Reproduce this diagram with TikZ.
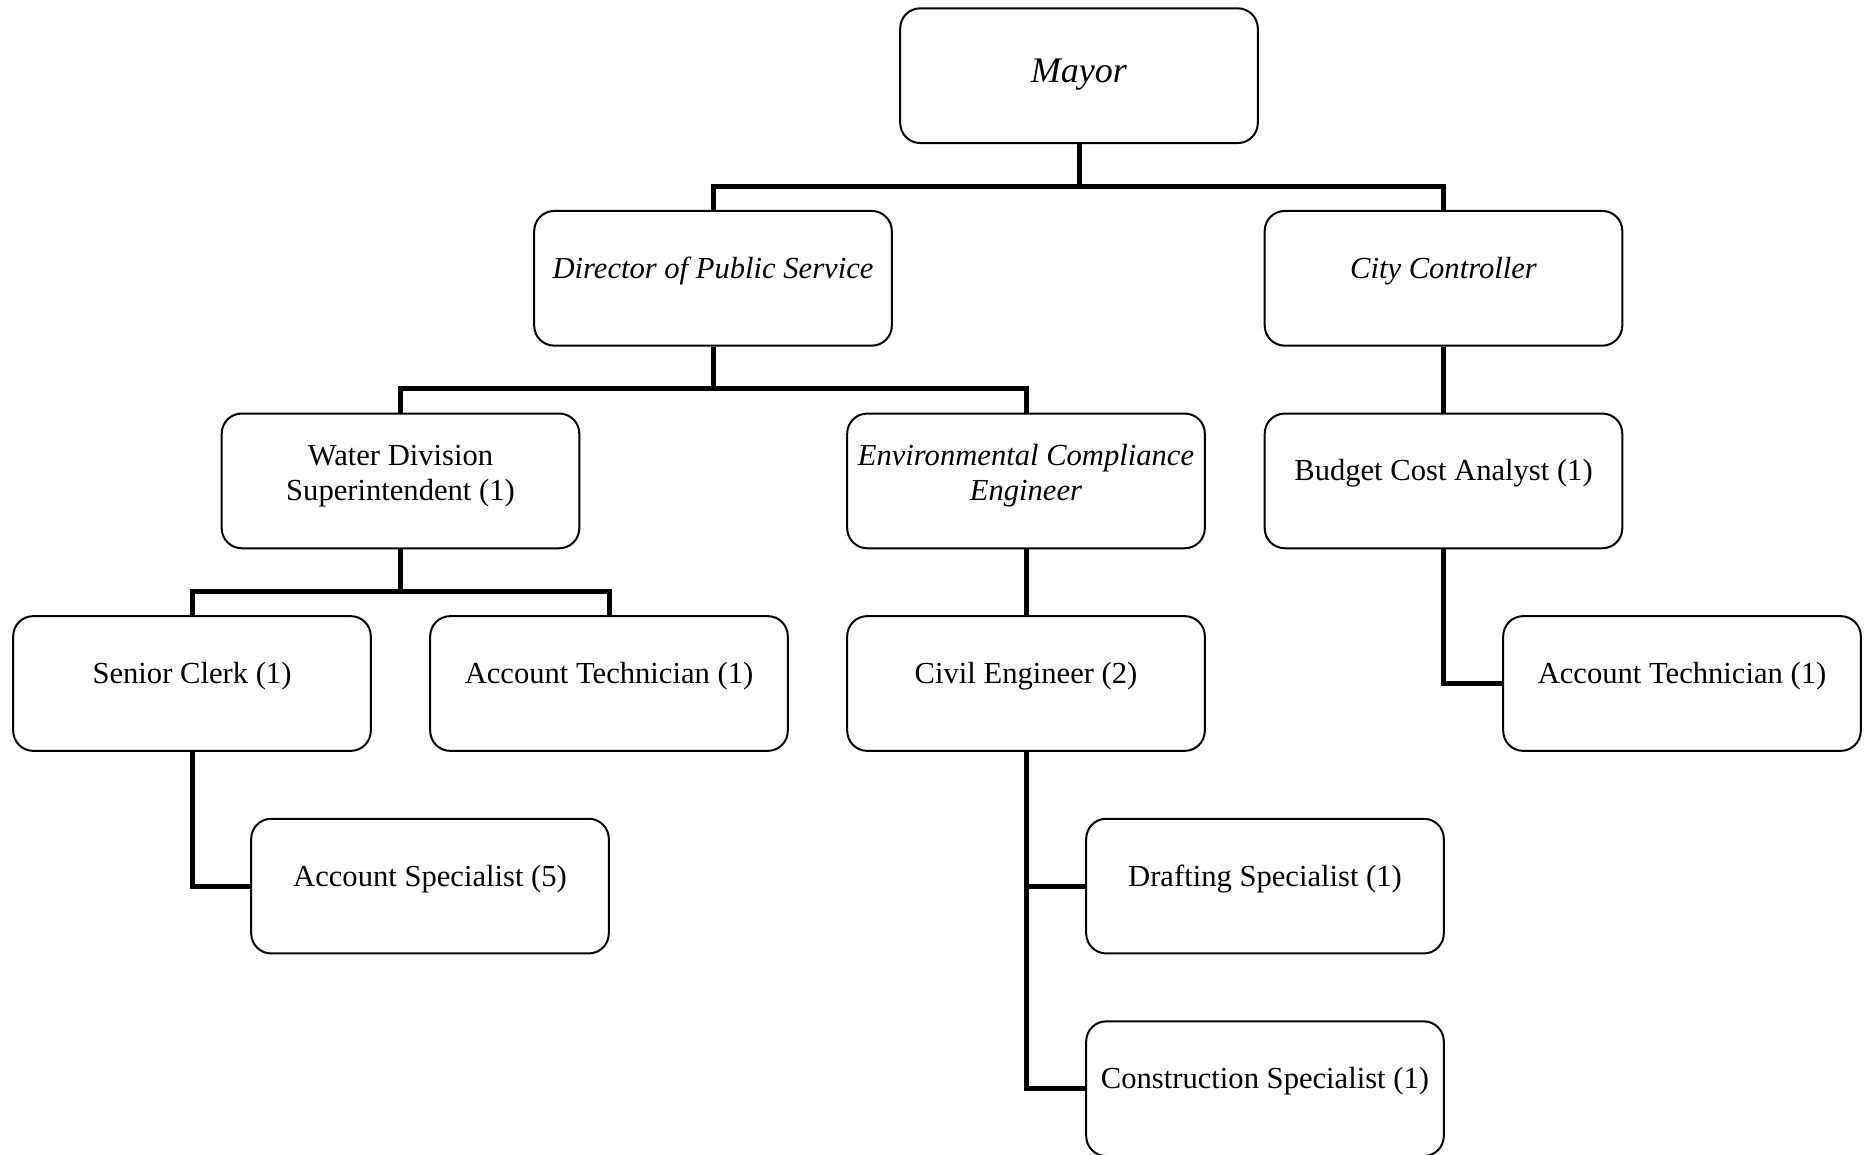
\documentclass[tikz,border=0pt]{standalone}
\usepackage{fontspec}
\setmainfont{Liberation Serif}
\begin{document}
\begin{tikzpicture}[x=0.5pt,y=-0.5pt,
  box/.style={draw=black,line width=1pt,rounded corners=10pt,fill=white,
    minimum width=178.8pt,minimum height=67.35pt,inner sep=0pt},
  txt/.style={font=\fontsize{15.3}{17.5}\selectfont,align=center,inner sep=0pt},
  onetxt/.style={txt,anchor=base},
  twotxt/.style={txt,anchor=center},
  conn/.style={line width=2.5pt,line join=miter,line cap=butt}]
\useasboundingbox (0,0) rectangle (1869,1155);
% boxes
\node[box] (mayor) at (1079,75.7) {};
\node[box] (director) at (713,278.3) {};
\node[box] (controller) at (1443.5,278.3) {};
\node[box] (water) at (400.5,480.9) {};
\node[box] (env) at (1026,480.9) {};
\node[box] (budget) at (1443.5,480.9) {};
\node[box] (clerk) at (192,683.5) {};
\node[box] (tech1) at (609,683.5) {};
\node[box] (civil) at (1026,683.5) {};
\node[box] (tech2) at (1682,683.5) {};
\node[box] (spec) at (430,886.1) {};
\node[box] (draft) at (1265,886.1) {};
\node[box] (constr) at (1265,1088.7) {};
% texts
\node[onetxt,font=\fontsize{18}{21}\selectfont] (mayor-t) at ([yshift=-3.3pt]mayor.center) {\textit{Mayor}};
\node[onetxt] (director-t) at (director.center) {\textit{Director of Public Service}};
\node[onetxt] (controller-t) at (controller.center) {\textit{City Controller}};
\node[twotxt] (water-t) at ([yshift=2.6pt]water.center) {Water Division\\Superintendent (1)};
\node[twotxt] (env-t) at ([yshift=2.6pt]env.center) {\textit{Environmental Compliance}\\\textit{Engineer}};
\node[onetxt] (budget-t) at (budget.center) {Budget Cost Analyst (1)};
\node[onetxt] (clerk-t) at (clerk.center) {Senior Clerk (1)};
\node[onetxt] (tech1-t) at (tech1.center) {Account Technician (1)};
\node[onetxt] (civil-t) at (civil.center) {Civil Engineer (2)};
\node[onetxt] (tech2-t) at (tech2.center) {Account Technician (1)};
\node[onetxt] (spec-t) at (spec.center) {Account Specialist (5)};
\node[onetxt] (draft-t) at (draft.center) {Drafting Specialist (1)};
\node[onetxt] (constr-t) at (constr.center) {Construction Specialist (1)};
% junction coordinates
\coordinate (j1) at (1079,186.5);
\coordinate (j2) at (713,388.7);
\coordinate (j3) at (400.5,591.3);
% connectors
\draw[conn] (mayor.south) -- (j1);
\draw[conn] (director.north) -- (director.north |- j1) -- (controller.north |- j1) -- (controller.north);
\draw[conn] (director.south) -- (j2);
\draw[conn] (water.north) -- (water.north |- j2) -- (env.north |- j2) -- (env.north);
\draw[conn] (controller.south) -- (budget.north);
\draw[conn] (water.south) -- (j3);
\draw[conn] (clerk.north) -- (clerk.north |- j3) -- (tech1.north |- j3) -- (tech1.north);
\draw[conn] (env.south) -- (civil.north);
\draw[conn] (budget.south) |- (tech2.west);
\draw[conn] (clerk.south) |- (spec.west);
\draw[conn] (civil.south) |- (constr.west);
\draw[conn] (civil.south |- draft.west) -- (draft.west);
\end{tikzpicture}
\end{document}
